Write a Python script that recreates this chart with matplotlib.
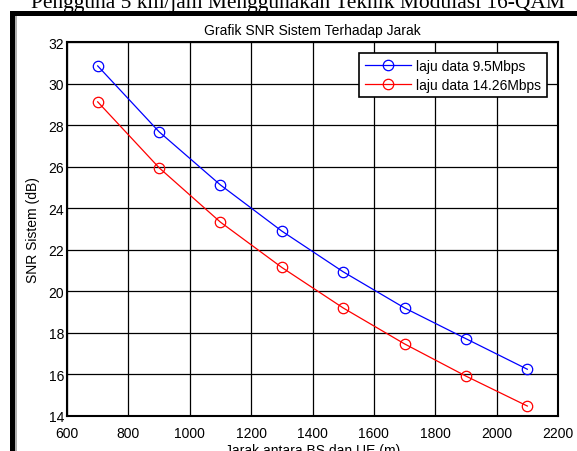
import numpy as np
import matplotlib
matplotlib.use("Agg")
from matplotlib import pyplot as plt
from matplotlib.patches import Rectangle

plt.rcParams['font.family'] = ['Liberation Sans', 'DejaVu Sans']

# data
jarak = [700, 900, 1100, 1300, 1500, 1700, 1900, 2100]
snr_95 = [30.85, 27.68, 25.12, 22.9, 20.94, 19.2, 17.72, 16.25]
snr_1426 = [29.12, 25.95, 23.33, 21.15, 19.2, 17.47, 15.92, 14.48]
xticks = [600, 800, 1000, 1200, 1400, 1600, 1800, 2000, 2200]
yticks = [14, 16, 18, 20, 22, 24, 26, 28, 30, 32]

W, H = 577, 452
fig = plt.figure(figsize=(W / 100, H / 100), dpi=100)
fig.patch.set_facecolor('white')

# frame of the pasted matlab figure
fig.add_artist(Rectangle((10 / W, 0), 5 / W, (H - 12) / H, transform=fig.transFigure,
                         color='black', lw=0))
fig.add_artist(Rectangle((10 / W, (H - 17) / H), (W - 10) / W, 5 / H, transform=fig.transFigure,
                         color='black', lw=0))
fig.add_artist(Rectangle((15 / W, 0), 1.5 / W, (H - 17) / H, transform=fig.transFigure,
                         color='#b0b0b0', lw=0))

# caption cut at top
fig.text(298 / W, 1 - 8 / H, "Pengguna 5 km/jam Menggunakan Teknik Modulasi 16-QAM",
         family='Liberation Serif', fontsize=15.5, ha='center', va='baseline')

ax = fig.add_axes([67 / W, 1 - 417 / H, (558 - 67) / W, (417 - 43) / H])
ax.plot(jarak, snr_95, '-o', color='blue', lw=0.9, ms=7.5, mfc='none', mew=0.9,
        label='laju data 9.5Mbps')
ax.plot(jarak, snr_1426, '-o', color='red', lw=0.9, ms=7.5, mfc='none', mew=0.9,
        label='laju data 14.26Mbps')

ax.set_xlim(600, 2200)
ax.set_ylim(14, 32)
ax.set_xticks(xticks)
ax.set_yticks(yticks)
ax.tick_params(labelsize=10, direction='in', length=0, pad=2)
ax.tick_params(axis='x', pad=7)
ax.grid(True, color='black', lw=0.9)
for s in ax.spines.values():
    s.set_linewidth(1.5)

ax.set_title("Grafik SNR Sistem Terhadap Jarak", fontsize=10, pad=6)
ax.set_ylabel("SNR Sistem (dB)", fontsize=10, labelpad=6)
ax.set_xlabel("Jarak antara BS dan UE (m)", fontsize=10, labelpad=2)

leg = ax.legend(loc='upper right', fontsize=10, frameon=True, fancybox=False,
                edgecolor='black', framealpha=1, handlelength=3.3, handletextpad=0.4,
                borderaxespad=0.8, labelspacing=0.35, borderpad=0.4)
leg.get_frame().set_linewidth(1.2)

plt.savefig("out.png", dpi=100)
